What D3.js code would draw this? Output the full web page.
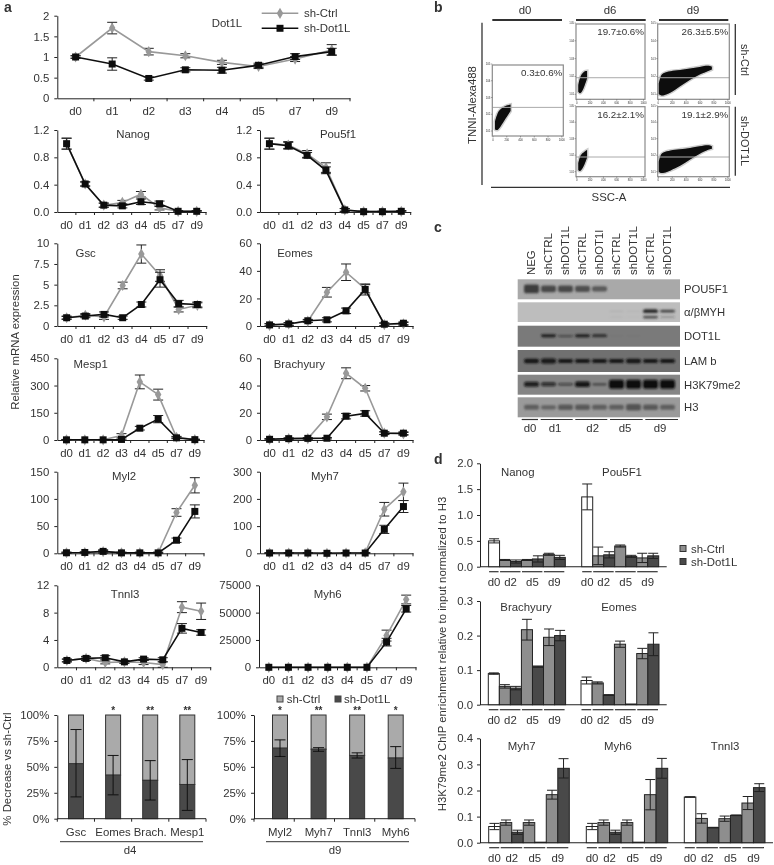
<!DOCTYPE html>
<html>
<head>
<meta charset="utf-8">
<script src="https://cdn.jsdelivr.net/npm/d3@7"></script>
<style>
  body { margin: 0; background: #fff; }
  text { font-family: "Liberation Sans", Arial, sans-serif; fill: #333; }
</style>
</head>
<body>
<div id="chart"></div>
<script>
// ---- panel a data
const days = ['d0', 'd1', 'd2', 'd3', 'd4', 'd5', 'd7', 'd9']

const dot1lCtrl = [1, 1.7, 1.13, 1.03, 0.87, 0.77, 0.95, 1.17]
const dot1lCtrlErr = [0.03, 0.14, 0.08, 0.05, 0.05, 0.05, 0.06, 0.13]
const dot1lKd = [1, 0.83, 0.48, 0.69, 0.68, 0.8, 1.01, 1.13]
const dot1lKdErr = [0.03, 0.15, 0.04, 0.05, 0.07, 0.05, 0.07, 0.08]

const nanogCtrl = [1, 0.41, 0.1, 0.14, 0.26, 0.06, 0.01, 0.01]
const nanogCtrlErr = [0.08, 0.03, 0.03, 0.03, 0.04, 0.03, 0.01, 0.01]
const nanogKd = [1, 0.41, 0.1, 0.09, 0.15, 0.12, 0.01, 0.01]
const nanogKdErr = [0.08, 0.03, 0.03, 0.03, 0.04, 0.04, 0.01, 0.01]

const pou5f1Ctrl = [1, 0.98, 0.85, 0.65, 0.03, 0.005, 0.005, 0.01]
const pou5f1CtrlErr = [0.08, 0.05, 0.05, 0.07, 0.02, 0.005, 0.005, 0.01]
const pou5f1Kd = [1, 0.97, 0.83, 0.61, 0.03, 0.005, 0.005, 0.01]
const pou5f1KdErr = [0.08, 0.05, 0.04, 0.05, 0.02, 0.005, 0.005, 0.01]

const gscCtrl = [1, 1.3, 1.1, 4.9, 8.7, 6.1, 2.0, 2.5]
const gscCtrlErr = [0.2, 0.2, 0.3, 0.4, 1.1, 0.7, 0.3, 0.3]
const gscKd = [1, 1.2, 1.4, 1, 2.6, 5.6, 2.7, 2.6]
const gscKdErr = [0.15, 0.2, 0.3, 0.2, 0.3, 0.9, 0.4, 0.3]

const eomesCtrl = [0.5, 1.5, 3.5, 24.5, 39, 27, 1, 1.5]
const eomesCtrlErr = [1, 1, 1, 3.5, 6, 3, 1, 1]
const eomesKd = [0.8, 1.5, 3.8, 4.5, 11, 26.5, 1.3, 2]
const eomesKdErr = [1, 1, 1, 1.5, 2, 4, 1, 1]

const mesp1Ctrl = [1, 1, 1, 25, 320, 250, 15, 2]
const mesp1CtrlErr = [2, 2, 2, 10, 38, 30, 5, 2]
const mesp1Kd = [1, 1, 1, 3, 65, 115, 12, 2]
const mesp1KdErr = [2, 2, 2, 3, 10, 20, 5, 2]

const brachCtrl = [0.5, 1, 1, 17, 49, 38, 5, 4.5]
const brachCtrlErr = [0.5, 0.5, 0.5, 2, 4, 2, 1, 1]
const brachKd = [0.5, 1, 1.2, 1.3, 17.5, 19.5, 5, 5]
const brachKdErr = [0.5, 0.5, 0.5, 0.5, 2, 2, 1, 1]

const myl2Ctrl = [1, 1.5, 3, 1, 1, 1, 75, 125]
const myl2CtrlErr = [1, 1, 2, 1, 1, 1, 7, 14]
const myl2Kd = [1, 1.5, 3.5, 0.8, 0.8, 0.8, 24, 77]
const myl2KdErr = [1, 1, 3, 1, 1, 1, 4, 12]

const myh7Ctrl = [1, 1, 1, 0, 1, 2, 162, 226]
const myh7CtrlErr = [1, 1, 1, 1, 1, 1, 25, 32]
const myh7Kd = [1, 1, 1, 0, 1, 1, 88, 172]
const myh7KdErr = [1, 1, 1, 1, 1, 1, 15, 22]

const tnni3Ctrl = [1, 1.3, 0.7, 0.8, 0.7, 0.4, 8.8, 8.2]
const tnni3CtrlErr = [0.2, 0.2, 0.2, 0.2, 0.3, 0.4, 0.8, 1.2]
const tnni3Kd = [1, 1.3, 1.4, 0.8, 1.2, 1.1, 5.7, 5.1]
const tnni3KdErr = [0.2, 0.3, 0.3, 0.2, 0.2, 0.3, 0.7, 0.4]

const myh6Ctrl = [0, 0, 0, 0, 0, 0, 29000, 62000]
const myh6CtrlErr = [0, 0, 0, 0, 0, 0, 5000, 4000]
const myh6Kd = [0, 0, 0, 0, 0, 0, 23000, 53500]
const myh6KdErr = [0, 0, 0, 0, 0, 0, 3500, 3000]

// stacked percent bars
const d4Genes = ['Gsc', 'Eomes', 'Brach.', 'Mesp1']
const d4Kd = [53, 42, 37, 33]
const d4ErrLow = [21, 23, 18, 8]
const d4ErrHigh = [86, 61, 56, 57]
const d4Stars = ['', '*', '**', '**']

const d9Genes = ['Myl2', 'Myh7', 'Tnnl3', 'Myh6']
const d9Kd = [68, 67, 61, 58.5]
const d9ErrLow = [60, 65, 58.5, 48.5]
const d9ErrHigh = [76, 68.5, 63.5, 69.5]
const d9Stars = ['*', '**', '**', '*']

// ---- panel b data: each cloud is [SSC-A, low decade, high decade]
const cloudD0 = [[29, 1.11, 1.57], [62, 1, 2.06], [110, 1.25, 2.32], [183, 1.75, 2.51], [255, 2.19, 2.58]]
const cloudD6Ctrl = [[24, 1.15, 1.52], [48, 1.02, 1.94], [82, 1.15, 2.17], [116, 1.46, 2.3], [155, 1.89, 2.31]]
const cloudD6Kd = [[24, 1.11, 1.52], [48, 1, 1.93], [82, 1.15, 2.11], [116, 1.43, 2.22], [155, 1.85, 2.31]]
const cloudD9Ctrl = [[5, 1.02, 1.6], [34, 0.93, 2.07], [72, 0.93, 2.2], [168, 1.05, 2.3], [313, 1.46, 2.35], [457, 1.83, 2.44], [600, 2.13, 2.54], [720, 2.31, 2.63], [770, 2.39, 2.54]]
const cloudD9Kd = [[5, 1, 1.61], [34, 0.91, 2.07], [72, 0.91, 2.17], [168, 1.06, 2.3], [313, 1.33, 2.35], [457, 1.74, 2.44], [600, 2.11, 2.54], [720, 2.35, 2.63], [770, 2.39, 2.54]]
const flowXTicks = [0, 200, 400, 600, 800, 1000]
const flowYTicks = [1, 2, 3, 4, 5]

// ---- panel c data: band darkness per lane
const laneLabels = ['NEG', 'shCTRL', 'shDOT1L', 'shCTRL', 'shDOT1l', 'shCTRL', 'shDOT1L', 'shCTRL', 'shDOT1L']
const pou5f1Bands = [0.8, 0.7, 0.7, 0.65, 0.6, 0, 0, 0, 0]
const myhBands = [0, 0, 0, 0, 0, 0.08, 0.05, 0.85, 0.65]
const myhLowerBands = [0, 0, 0, 0, 0, 0.05, 0.03, 0.6, 0.3]
const dot1lBands = [0, 0.8, 0.5, 0.85, 0.75, 0.05, 0.05, 0, 0]
const lamBands = [0.85, 0.9, 0.8, 0.8, 0.8, 0.8, 0.85, 0.8, 0.8]
const h3k79Bands = [0.7, 0.6, 0.45, 0.75, 0.4, 1, 1, 1, 1]
const h3Bands = [0.6, 0.55, 0.65, 0.65, 0.6, 0.6, 0.7, 0.65, 0.6]
const blotDays = ['d0', 'd1', 'd2', 'd5', 'd9']

// ---- panel d data
const chipConds = ['d0', 'd2 ctrl', 'd2 kd', 'd5 ctrl', 'd5 kd', 'd9 ctrl', 'd9 kd']
const chipDays = ['d0', 'd2', 'd5', 'd9']

const chipNanog = [0.5, 0.13, 0.1, 0.13, 0.15, 0.24, 0.18]
const chipNanogErr = [0.04, 0.01, 0.03, 0.01, 0.06, 0.02, 0.04]
const chipPou5f1 = [1.35, 0.21, 0.23, 0.4, 0.2, 0.17, 0.21]
const chipPou5f1Err = [0.25, 0.17, 0.06, 0.02, 0.02, 0.09, 0.05]
const chipBrach = [0.09, 0.053, 0.048, 0.217, 0.11, 0.195, 0.2]
const chipBrachErr = [0.002, 0.005, 0.005, 0.03, 0.002, 0.024, 0.015]
const chipEomes = [0.07, 0.063, 0.028, 0.175, 0.002, 0.148, 0.175]
const chipEomesErr = [0.01, 0.003, 0.001, 0.009, 0, 0.015, 0.033]
const chipMyh7 = [0.062, 0.077, 0.04, 0.077, 0.002, 0.184, 0.285]
const chipMyh7Err = [0.012, 0.01, 0.008, 0.01, 0, 0.017, 0.037]
const chipMyh6 = [0.062, 0.077, 0.04, 0.077, 0.002, 0.184, 0.285]
const chipMyh6Err = [0.012, 0.01, 0.008, 0.01, 0, 0.058, 0.038]
const chipTnni3 = [0.175, 0.093, 0.058, 0.092, 0.105, 0.152, 0.211]
const chipTnni3Err = [0.001, 0.018, 0.001, 0.01, 0.001, 0.025, 0.015]

// ---- drawing
const ink = '#222'
const ctrlGrey = '#999'
const fontSize = 11.4

const svgRoot = d3.select('#chart').append('svg')
    .attr('width', 774)
    .attr('height', 865)
    .style('display', 'block')

const defs = svgRoot.append('defs')
defs.append('filter').attr('id', 'soft').attr('x', 0).attr('y', 0).attr('width', 1).attr('height', 1)
    .append('feGaussianBlur').attr('stdDeviation', 0.5)
defs.append('filter').attr('id', 'smear').attr('x', '-20%').attr('y', '-60%').attr('width', '140%').attr('height', '220%')
    .append('feGaussianBlur').attr('stdDeviation', 1.1)

const svg = svgRoot.append('g').attr('filter', 'url(#soft)')
svg.append('rect').attr('width', 774).attr('height', 865).attr('fill', '#fff')

function label(txt, x, y, opts = {}) {
    return svg.append('text')
        .attr('x', x)
        .attr('y', y)
        .attr('dy', '0.35em')
        .attr('text-anchor', opts.anchor || 'middle')
        .attr('font-size', opts.size || fontSize)
        .attr('font-weight', opts.weight || null)
        .attr('transform', opts.rotate ? 'rotate(' + opts.rotate + ' ' + x + ' ' + y + ')' : null)
        .text(txt)
}

function hline(x0, x1, y, width = 1, color = ink) {
    svg.append('line').attr('x1', x0).attr('x2', x1).attr('y1', y).attr('y2', y)
        .attr('stroke', color).attr('stroke-width', width)
}

function vline(x, y0, y1, width = 1, color = ink) {
    svg.append('line').attr('x1', x).attr('x2', x).attr('y1', y0).attr('y2', y1)
        .attr('stroke', color).attr('stroke-width', width)
}

function styleAxis(g) {
    g.selectAll('path, line').attr('stroke', ink)
    g.selectAll('text').attr('font-size', fontSize)
}

function errorBars(g, xs, vals, errs, y, cap) {
    vals.forEach((v, i) => {
        if (!errs[i]) return
        const top = y(v + errs[i])
        const bottom = y(Math.max(v - errs[i], y.domain()[0]))
        g.append('line').attr('x1', xs(i)).attr('x2', xs(i)).attr('y1', top).attr('y2', bottom)
            .attr('stroke', ink).attr('stroke-width', 1)
        ;[top, bottom].forEach(yy => {
            g.append('line').attr('x1', xs(i) - cap).attr('x2', xs(i) + cap).attr('y1', yy).attr('y2', yy)
                .attr('stroke', ink).attr('stroke-width', 1)
        })
    })
}

function linePanel(p) {
    const x = d3.scaleBand().domain(days).range([p.x0, p.x1])
    const y = d3.scaleLinear().domain([0, p.ticks[p.ticks.length - 1]]).range([p.y0, p.y1])
    const g = svg.append('g')

    g.append('g').attr('transform', 'translate(' + p.x0 + ',0)')
        .call(d3.axisLeft(y).tickValues(p.ticks).tickFormat(p.fmt || (d => d)).tickSize(3).tickPadding(5).tickSizeOuter(0))
        .call(styleAxis)
    g.append('g').attr('transform', 'translate(0,' + p.y0 + ')')
        .call(d3.axisBottom(x).tickSize(0).tickPadding(9))
        .call(styleAxis)
    // tick marks sit between the days
    days.forEach(d => {
        g.append('line').attr('x1', x(d) + x.step()).attr('x2', x(d) + x.step())
            .attr('y1', p.y0).attr('y2', p.y0 + 3).attr('stroke', ink)
    })

    const cx = d => x(d) + x.bandwidth() / 2
    const line = d3.line().x((d, i) => cx(days[i])).y(d => y(d))

    errorBars(g, i => cx(days[i]), p.ctrl, p.ctrlErr, y, 5)
    g.append('path').datum(p.ctrl).attr('d', line).attr('fill', 'none').attr('stroke', ctrlGrey).attr('stroke-width', 1.6)
    g.selectAll('.ctrl').data(p.ctrl).enter().append('path').attr('class', 'ctrl')
        .attr('d', d3.symbol().type(d3.symbolDiamond).size(36))
        .attr('transform', (d, i) => 'translate(' + cx(days[i]) + ',' + y(d) + ')')
        .attr('fill', ctrlGrey)

    errorBars(g, i => cx(days[i]), p.kd, p.kdErr, y, 5)
    g.append('path').datum(p.kd).attr('d', line).attr('fill', 'none').attr('stroke', '#111').attr('stroke-width', 1.6)
    g.selectAll('.kd').data(p.kd).enter().append('rect').attr('class', 'kd')
        .attr('x', (d, i) => cx(days[i]) - 3.5)
        .attr('y', d => y(d) - 3.5)
        .attr('width', 7).attr('height', 7)
        .attr('fill', '#111')

    label(p.title, p.tx, p.ty)
}

const fmt1 = d3.format('.1f')
const linePanels = [
    { title: 'Dot1L', ctrl: dot1lCtrl, ctrlErr: dot1lCtrlErr, kd: dot1lKd, kdErr: dot1lKdErr, ticks: [0, 0.5, 1, 1.5, 2], x0: 57.3, x1: 350, y0: 98.3, y1: 15.7, tx: 227, ty: 23 },
    { title: 'Nanog', ctrl: nanogCtrl, ctrlErr: nanogCtrlErr, kd: nanogKd, kdErr: nanogKdErr, ticks: [0, 0.4, 0.8, 1.2], fmt: fmt1, x0: 57.3, x1: 206, y0: 212, y1: 130, tx: 133, ty: 133.7 },
    { title: 'Pou5f1', ctrl: pou5f1Ctrl, ctrlErr: pou5f1CtrlErr, kd: pou5f1Kd, kdErr: pou5f1KdErr, ticks: [0, 0.4, 0.8, 1.2], fmt: fmt1, x0: 260, x1: 410.7, y0: 212, y1: 130, tx: 338, ty: 133.7 },
    { title: 'Gsc', ctrl: gscCtrl, ctrlErr: gscCtrlErr, kd: gscKd, kdErr: gscKdErr, ticks: [0, 2.5, 5, 7.5, 10], x0: 57.3, x1: 206.7, y0: 326, y1: 243.3, tx: 85.7, ty: 253.3 },
    { title: 'Eomes', ctrl: eomesCtrl, ctrlErr: eomesCtrlErr, kd: eomesKd, kdErr: eomesKdErr, ticks: [0, 20, 40, 60], x0: 260, x1: 413, y0: 326, y1: 243.3, tx: 295, ty: 253.3 },
    { title: 'Mesp1', ctrl: mesp1Ctrl, ctrlErr: mesp1CtrlErr, kd: mesp1Kd, kdErr: mesp1KdErr, ticks: [0, 150, 300, 450], x0: 57.3, x1: 204, y0: 440, y1: 358.3, tx: 90.7, ty: 364.3 },
    { title: 'Brachyury', ctrl: brachCtrl, ctrlErr: brachCtrlErr, kd: brachKd, kdErr: brachKdErr, ticks: [0, 20, 40, 60], x0: 260, x1: 413, y0: 440, y1: 358.3, tx: 299.3, ty: 364.3 },
    { title: 'Myl2', ctrl: myl2Ctrl, ctrlErr: myl2CtrlErr, kd: myl2Kd, kdErr: myl2KdErr, ticks: [0, 50, 100, 150], x0: 57.3, x1: 204, y0: 553.3, y1: 471.7, tx: 124, ty: 475.7 },
    { title: 'Myh7', ctrl: myh7Ctrl, ctrlErr: myh7CtrlErr, kd: myh7Kd, kdErr: myh7KdErr, ticks: [0, 100, 200, 300], x0: 260, x1: 413, y0: 553.3, y1: 471.7, tx: 325, ty: 475.7 },
    { title: 'Tnnl3', ctrl: tnni3Ctrl, ctrlErr: tnni3CtrlErr, kd: tnni3Kd, kdErr: tnni3KdErr, ticks: [0, 4, 8, 12], x0: 57.3, x1: 210.7, y0: 667.3, y1: 585.3, tx: 125, ty: 594 },
    { title: 'Myh6', ctrl: myh6Ctrl, ctrlErr: myh6CtrlErr, kd: myh6Kd, kdErr: myh6KdErr, ticks: [0, 25000, 50000, 75000], x0: 259, x1: 416, y0: 667.3, y1: 585.3, tx: 327.7, ty: 594 }
]
linePanels.forEach(linePanel)

// legend of panel a
hline(261.7, 298.3, 13.3, 1.6, ctrlGrey)
svg.append('path').attr('d', d3.symbol().type(d3.symbolDiamond).size(36)).attr('transform', 'translate(280,13.3)').attr('fill', ctrlGrey)
label('sh-Ctrl', 304, 13.3, { anchor: 'start' })
hline(261.7, 298.3, 28.3, 1.6, '#111')
svg.append('rect').attr('x', 276.5).attr('y', 24.8).attr('width', 7).attr('height', 7).attr('fill', '#111')
label('sh-Dot1L', 304, 28.3, { anchor: 'start' })

label('Relative mRNA expression', 15, 342, { rotate: -90 })
label('% Decrease vs sh-Ctrl', 7.5, 769, { rotate: -90 })

// stacked percent bars
function stackPanel(genes, kd, low, high, stars, p) {
    const x = d3.scalePoint().domain(genes).range([p.c0, p.c1])
    const y = d3.scaleLinear().domain([0, 100]).range([818.7, 715])
    const g = svg.append('g')
    const barW = 15

    genes.forEach((gene, i) => {
        g.append('rect').attr('x', x(gene) - barW / 2).attr('y', y(100)).attr('width', barW)
            .attr('height', y(kd[i]) - y(100)).attr('fill', '#aaa').attr('stroke', '#333')
        g.append('rect').attr('x', x(gene) - barW / 2).attr('y', y(kd[i])).attr('width', barW)
            .attr('height', y(0) - y(kd[i])).attr('fill', '#4a4a4a').attr('stroke', '#333')
        g.append('line').attr('x1', x(gene)).attr('x2', x(gene)).attr('y1', y(low[i])).attr('y2', y(high[i])).attr('stroke', '#111')
        ;[low[i], high[i]].forEach(v => {
            g.append('line').attr('x1', x(gene) - 5.5).attr('x2', x(gene) + 5.5).attr('y1', y(v)).attr('y2', y(v)).attr('stroke', '#111')
        })
        if (stars[i]) label(stars[i], x(gene), 710.5, { size: 10, weight: 'bold' })
        label(gene, x(gene), 832, { size: 11.4 })
    })

    g.append('g').attr('transform', 'translate(' + p.axis + ',0)')
        .call(d3.axisLeft(y).tickValues([0, 25, 50, 75, 100]).tickFormat(d => d + '%').tickSize(3).tickPadding(5).tickSizeOuter(0))
        .call(styleAxis)
    hline(p.axis, p.end, y(0))
    d3.range(5).forEach(i => {
        const tx = p.axis + (p.end - p.axis) * i / 4
        vline(tx, y(0), y(0) + 3)
    })
    hline(p.lineX0, p.lineX1, 841.7, 1, '#333')
    label(p.day, p.dayX, 850)
}
stackPanel(d4Genes, d4Kd, d4ErrLow, d4ErrHigh, d4Stars, { c0: 76, c1: 187.3, axis: 57.3, end: 206, lineX0: 60, lineX1: 203, day: 'd4', dayX: 130 })
stackPanel(d9Genes, d9Kd, d9ErrLow, d9ErrHigh, d9Stars, { c0: 280, c1: 395.7, axis: 254, end: 415, lineX0: 266, lineX1: 409, day: 'd9', dayX: 335 })

svg.append('rect').attr('x', 277).attr('y', 696).attr('width', 6).attr('height', 6).attr('fill', '#aaa').attr('stroke', '#444')
label('sh-Ctrl', 286.7, 699, { anchor: 'start' })
svg.append('rect').attr('x', 335).attr('y', 696).attr('width', 6).attr('height', 6).attr('fill', '#4a4a4a').attr('stroke', '#444')
label('sh-Dot1L', 344, 699, { anchor: 'start' })

// ---- panel b
function flowPanel(cloud, gate, txt, p) {
    const x = d3.scaleLinear().domain([0, 1000]).range([p.x0 + 0.7, p.x1 - 1.5])
    const y = d3.scaleLinear().domain([1, 5]).range([p.y1 - 5, p.y0 - 1])
    const area = d3.area().x(d => x(d[0])).y0(d => y(d[1])).y1(d => y(d[2])).curve(d3.curveBasis)
    const g = svg.append('g')

    g.append('path').datum(cloud).attr('d', area).attr('fill', '#888').attr('stroke', '#aaa').attr('stroke-width', 3).attr('stroke-opacity', 0.6)
    g.append('path').datum(cloud).attr('d', area).attr('fill', '#0c0c0c')
    g.append('line').attr('x1', p.x0).attr('x2', p.x1).attr('y1', y(gate)).attr('y2', y(gate)).attr('stroke', '#aaa').attr('stroke-width', 1)
    g.append('rect').attr('x', p.x0).attr('y', p.y0).attr('width', p.x1 - p.x0).attr('height', p.y1 - p.y0)
        .attr('fill', 'none').attr('stroke', '#8a8a8a').attr('stroke-width', 1.2)

    flowXTicks.forEach(t => {
        g.append('line').attr('x1', x(t)).attr('x2', x(t)).attr('y1', p.y1).attr('y2', p.y1 + 1.5).attr('stroke', '#555').attr('stroke-width', 0.5)
        g.append('text').attr('x', x(t)).attr('y', p.y1 + 4.5).attr('text-anchor', 'middle').attr('font-size', 2.8).text(t)
    })
    flowYTicks.forEach(t => {
        g.append('line').attr('x1', p.x0 - 1.5).attr('x2', p.x0).attr('y1', y(t)).attr('y2', y(t)).attr('stroke', '#555').attr('stroke-width', 0.5)
        g.append('text').attr('x', p.x0 - 2).attr('y', y(t) + 1).attr('text-anchor', 'end').attr('font-size', 2.8).text('10' + t)
    })
    label(txt, p.x1 - 1, p.y0 + 8, { anchor: 'end', size: 9.8 })
}
flowPanel(cloudD0, 2.41, '0.3±0.6%', { x0: 492.3, x1: 563.3, y0: 65, y1: 136 })
flowPanel(cloudD6Ctrl, 1.93, '19.7±0.6%', { x0: 576, x1: 645, y0: 24, y1: 99.3 })
flowPanel(cloudD9Ctrl, 1.93, '26.3±5.5%', { x0: 657.7, x1: 729.3, y0: 24, y1: 99.3 })
flowPanel(cloudD6Kd, 1.89, '16.2±2.1%', { x0: 576, x1: 645, y0: 106.7, y1: 176.7 })
flowPanel(cloudD9Kd, 1.89, '19.1±2.9%', { x0: 657.7, x1: 729.3, y0: 106.7, y1: 176.7 })

hline(492.3, 562, 20, 1.8, '#333')
hline(576, 645.7, 20, 1.8, '#333')
hline(659, 728.3, 20, 1.8, '#333')
label('d0', 525, 10)
label('d6', 610, 10)
label('d9', 693, 10)
vline(482, 22.7, 185, 1.3, '#333')
hline(491, 730, 187.3, 1.3, '#333')
vline(735.3, 24, 95, 1.3, '#333')
vline(735.3, 106.7, 175.7, 1.3, '#333')
label('TNNI-Alexa488', 472, 105, { rotate: -90 })
label('SSC-A', 609, 197.5)
label('sh-Ctrl', 745, 60, { rotate: 90, size: 10.8 })
label('sh-DOT1L', 745, 141, { rotate: 90, size: 10.8 })

// ---- panel c
const lanes = d3.scaleBand().domain(d3.range(9)).range([523, 676])
const blotRows = [
    { name: 'POU5F1', y0: 279.3, y1: 299.3, bg: '#a9a9a9', band: '#3c3c3c', bands: [[pou5f1Bands, 0.48, 12]] },
    { name: 'α/βMYH', y0: 302.3, y1: 322, bg: '#bdbdbd', band: '#2a2a2a', bands: [[myhBands, 0.45, 4], [myhLowerBands, 0.75, 5]] },
    { name: 'DOT1L', y0: 325.7, y1: 346.7, bg: '#7a7a7a', band: '#1c1c1c', bands: [[dot1lBands, 0.48, 3]] },
    { name: 'LAM b', y0: 350, y1: 372, bg: '#707070', band: '#141414', bands: [[lamBands, 0.5, 5]] },
    { name: 'H3K79me2', y0: 374.7, y1: 394.7, bg: '#858585', band: '#0c0c0c', bands: [[h3k79Bands, 0.48, 8]] },
    { name: 'H3', y0: 397.3, y1: 417.3, bg: '#9a9a9a', band: '#4a4a4a', bands: [[h3Bands, 0.5, 11]] }
]
blotRows.forEach(r => {
    svg.append('rect').attr('x', 517.7).attr('y', r.y0).attr('width', 162.3).attr('height', r.y1 - r.y0).attr('fill', r.bg)
    const g = svg.append('g').attr('filter', 'url(#smear)')
    r.bands.forEach(([vals, pos, thick]) => {
        vals.forEach((v, i) => {
            if (!v) return
            const h = 1 + v * v * thick
            g.append('rect')
                .attr('x', lanes(i) + 1)
                .attr('y', r.y0 + (r.y1 - r.y0) * pos - h / 2)
                .attr('width', lanes.bandwidth() - 2)
                .attr('height', h)
                .attr('rx', 2)
                .attr('fill', r.band)
                .attr('opacity', Math.min(1, v * 1.25))
        })
    })
    label(r.name, 684, (r.y0 + r.y1) / 2, { anchor: 'start', size: 11.3 })
})
laneLabels.forEach((t, i) => {
    label(t, lanes(i) + lanes.bandwidth() / 2, 275, { anchor: 'start', rotate: -90, size: 11.4 })
})
const blotGroups = [[521.7, 538, 530], [540.7, 572.7, 555], [575.3, 607.3, 592.7], [610, 642.7, 625], [645.3, 678, 660]]
blotDays.forEach((d, i) => {
    hline(blotGroups[i][0], blotGroups[i][1], 419.5, 1.2, '#333')
    label(d, blotGroups[i][2], 428.5)
})

// ---- panel d
function chipFill(i) {
    if (i === 0) return '#fff'
    return i % 2 === 1 ? '#8e8e8e' : '#484848'
}

function chipAxis(ticks, p) {
    const y = d3.scaleLinear().domain([0, ticks[ticks.length - 1]]).range([p.y0, p.y1])
    svg.append('g').attr('transform', 'translate(480,0)')
        .call(d3.axisLeft(y).tickValues(ticks).tickFormat(fmt1).tickSize(3).tickPadding(4).tickSizeOuter(0))
        .call(styleAxis)
    hline(480, p.end, p.y0, 1.1)
    return y
}

function chipGroup(title, vals, errs, y, p) {
    const x = d3.scaleBand().domain(chipConds).range([p.x0, p.x1])
    const g = svg.append('g')
    g.selectAll('rect').data(vals).enter().append('rect')
        .attr('x', (d, i) => x(chipConds[i]))
        .attr('y', d => y(d))
        .attr('width', x.bandwidth())
        .attr('height', d => y(0) - y(d))
        .attr('fill', (d, i) => chipFill(i))
        .attr('stroke', ink)
    errorBars(g, i => x(chipConds[i]) + x.bandwidth() / 2, vals, errs, y, 5)

    const base = y(0)
    const spans = [[0, 0], [1, 2], [3, 4], [5, 6]]
    chipDays.forEach((d, i) => {
        const a = x(chipConds[spans[i][0]])
        const b = x(chipConds[spans[i][1]]) + x.bandwidth()
        hline(a + 0.5, b - 1, base + 5, 1.2, '#333')
        label(d, (a + b) / 2, base + 15)
    })
    label(title, p.tx, p.ty)
}

const yRow1 = chipAxis([0, 0.5, 1, 1.5, 2], { y0: 566.7, y1: 463.3, end: 666.7 })
chipGroup('Nanog', chipNanog, chipNanogErr, yRow1, { x0: 488.6, x1: 565.3, tx: 517.7, ty: 472 })
chipGroup('Pou5F1', chipPou5f1, chipPou5f1Err, yRow1, { x0: 581.7, x1: 658.7, tx: 622, ty: 472 })

const yRow2 = chipAxis([0, 0.1, 0.2, 0.3], { y0: 704.7, y1: 601, end: 666.7 })
chipGroup('Brachyury', chipBrach, chipBrachErr, yRow2, { x0: 488.3, x1: 565.6, tx: 526, ty: 606.7 })
chipGroup('Eomes', chipEomes, chipEomesErr, yRow2, { x0: 581, x1: 659, tx: 619, ty: 606.7 })

const yRow3 = chipAxis([0, 0.1, 0.2, 0.3, 0.4], { y0: 842.7, y1: 738.3, end: 773 })
chipGroup('Myh7', chipMyh7, chipMyh7Err, yRow3, { x0: 488.7, x1: 569.3, tx: 521.7, ty: 746 })
chipGroup('Myh6', chipMyh6, chipMyh6Err, yRow3, { x0: 586.3, x1: 667.7, tx: 618, ty: 746 })
chipGroup('Tnnl3', chipTnni3, chipTnni3Err, yRow3, { x0: 684.3, x1: 765, tx: 725, ty: 746 })

svg.append('rect').attr('x', 680).attr('y', 545.5).attr('width', 6).attr('height', 6).attr('fill', '#8e8e8e').attr('stroke', '#333')
label('sh-Ctrl', 691, 548.7, { anchor: 'start' })
svg.append('rect').attr('x', 680).attr('y', 558.5).attr('width', 6).attr('height', 6).attr('fill', '#484848').attr('stroke', '#333')
label('sh-Dot1L', 691, 561.7, { anchor: 'start' })

label('H3K79me2 ChIP enrichment relative to input normalized to H3', 441.7, 654, { rotate: -90 })

// panel letters
label('a', 4, 7, { anchor: 'start', size: 14, weight: 'bold' })
label('b', 434, 7, { anchor: 'start', size: 14, weight: 'bold' })
label('c', 434, 227, { anchor: 'start', size: 14, weight: 'bold' })
label('d', 434, 459, { anchor: 'start', size: 14, weight: 'bold' })
</script>
</body>
</html>
